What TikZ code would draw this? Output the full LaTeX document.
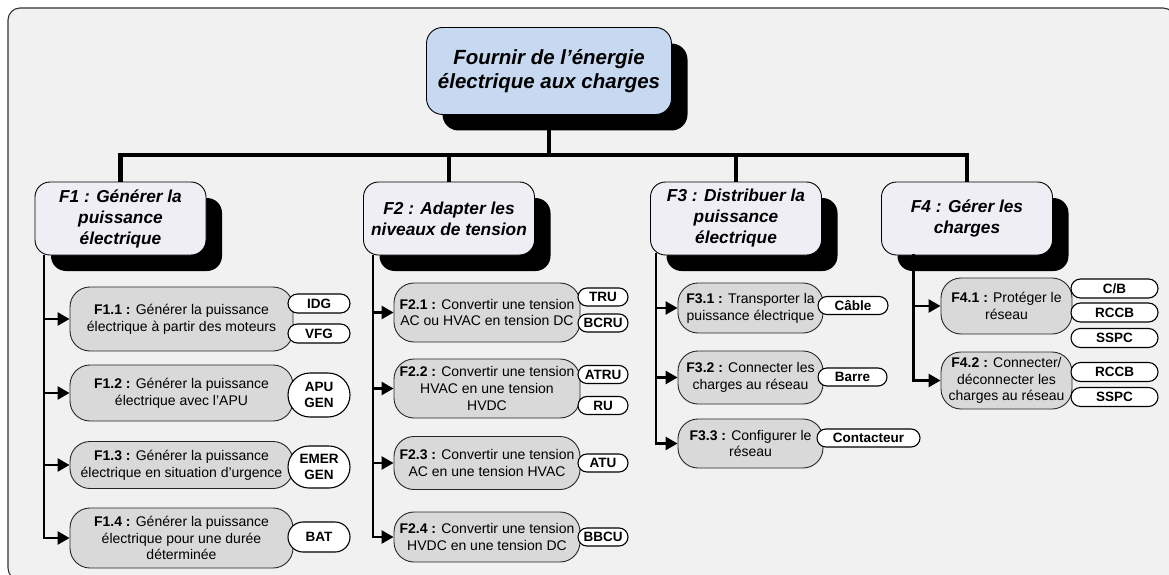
\documentclass[tikz,border=0pt]{standalone}
\usepackage{fontspec}
\setmainfont{Liberation Sans}
\usetikzlibrary{arrows.meta,shadows,shapes.misc}
\definecolor{framegray}{HTML}{F1F1F1}
\definecolor{topblue}{HTML}{C6D9F0}
\definecolor{lavender}{HTML}{F0EEF5}
\definecolor{subgray}{HTML}{D9D9D9}

\begin{document}
\begin{tikzpicture}[x=1pt,y=-1pt,
   shade/.style={drop shadow={shadow xshift=16pt,shadow yshift=-16pt,opacity=1,fill=black}},
   topbox/.style={shade,draw=black,line width=0.9pt,rounded corners=16pt,fill=topblue,align=center,
      inner sep=0pt,minimum width=245pt,minimum height=87pt,
      font=\fontsize{20.5}{24.6}\selectfont\bfseries\itshape},
   fbox/.style={shade,draw=black,line width=0.9pt,rounded corners=15pt,fill=lavender,align=center,
      inner sep=0pt,minimum width=171pt,minimum height=73pt,
      font=\fontsize{17.3}{21}\selectfont\bfseries\itshape},
   sbox/.style={draw=black!85,line width=0.9pt,rounded corners=20pt,fill=subgray,align=center,
      inner sep=0pt,font=\fontsize{14}{16.8}\selectfont},
   pill/.style={rounded rectangle,draw=black,line width=1.1pt,fill=white,align=center,
      inner sep=0pt,minimum height=18pt,font=\fontsize{13.5}{16.7}\selectfont\bfseries},
   tree/.style={line width=4.5pt},
   trunk/.style={line width=2.6pt,-{Triangle[length=12pt,width=13pt]}}
]
   \useasboundingbox (0,0) rectangle (1169,575);
   \filldraw[fill=framegray,draw=black!80,line width=1.1pt,rounded corners=12pt] (8,8) rectangle (1175,580);

   % main function
   \node[topbox] (top) at (549,71) {Fournir de l’énergie\\électrique aux charges};

   % first level
   \node[fbox] (f1) at (120.5,218.5) {F1 : Générer la\\puissance\\électrique};
   \node[fbox] (f2) at (449,218.5) {F2 : Adapter les\\niveaux de tension};
   \node[fbox] (f3) at (736,218.5) {F3 : Distribuer la\\puissance\\électrique};
   \node[fbox] (f4) at (967,218.5) {F4 : Gérer les\\charges};

   \coordinate (bar) at (549,155);
   \draw[tree] (top.south) -- (top.south |- bar);
   \draw[tree] (f1.north) -- (f1.north |- bar) -- (f4.north |- bar) -- (f4.north);
   \draw[tree] (f2.north) -- (f2.north |- bar);
   \draw[tree] (f3.north) -- (f3.north |- bar);

   % F1
   \node[sbox,minimum width=223pt,minimum height=64pt] (f11) at (181.5,319) {\textbf{F1.1 :} Générer la puissance\\électrique à partir des moteurs};
   \node[sbox,minimum width=223pt,minimum height=56pt] (f12) at (181.5,393) {\textbf{F1.2 :} Générer la puissance\\électrique avec l'APU};
   \node[sbox,minimum width=223pt,minimum height=47pt] (f13) at (181.5,465) {\textbf{F1.3 :} Générer la puissance\\électrique en situation d’urgence};
   \node[sbox,minimum width=223pt,minimum height=60pt] (f14) at (181.5,538) {\textbf{F1.4 :} Générer la puissance\\électrique pour une durée\\déterminée};
   \node[pill,minimum width=62pt,minimum height=19pt] (idg) at (319,303.5) {IDG};
   \node[pill,minimum width=62pt,minimum height=19pt] (vfg) at (319,333.5) {VFG};
   \node[pill,minimum width=62pt,minimum height=44pt] (apu) at (319,395) {APU\\GEN};
   \node[pill,minimum width=62pt,minimum height=42pt] (emer) at (319,467) {EMER\\GEN};
   \node[pill,minimum width=62pt,minimum height=30pt] (bat) at (319,537) {BAT};

   % F2
   \node[sbox,minimum width=186pt,minimum height=59pt] (f21) at (487,312.5) {\textbf{F2.1 :} Convertir une tension\\AC ou HVAC en tension DC};
   \node[sbox,minimum width=186pt,minimum height=59pt] (f22) at (487,388.5) {\textbf{F2.2 :} Convertir une tension\\HVAC en une tension\\HVDC};
   \node[sbox,minimum width=186pt,minimum height=53pt] (f23) at (487,463) {\textbf{F2.3 :} Convertir une tension\\AC en une tension HVAC};
   \node[sbox,minimum width=186pt,minimum height=50pt] (f24) at (487,537) {\textbf{F2.4 :} Convertir une tension\\HVDC en une tension DC};
   \node[pill,minimum width=50pt] (tru) at (603,297) {TRU};
   \node[pill,minimum width=50pt] (bcru) at (603,323) {BCRU};
   \node[pill,minimum width=50pt] (atru) at (603,374.5) {ATRU};
   \node[pill,minimum width=50pt] (ru) at (603,405.5) {RU};
   \node[pill,minimum width=50pt] (atu) at (603,463) {ATU};
   \node[pill,minimum width=50pt] (bbcu) at (603,537) {BBCU};

   % F3
   \node[sbox,minimum width=145pt,minimum height=50pt] (f31) at (750.5,308) {\textbf{F3.1 :} Transporter la\\puissance électrique};
   \node[sbox,minimum width=145pt,minimum height=53pt] (f32) at (750.5,377.5) {\textbf{F3.2 :} Connecter les\\charges au réseau};
   \node[sbox,minimum width=145pt,minimum height=49pt] (f33) at (750.5,443.5) {\textbf{F3.3 :} Configurer le\\réseau};
   \node[pill,minimum width=70pt] (cable) at (853,305.5) {Câble};
   \node[pill,minimum width=69pt] (barre) at (852.5,377) {Barre};
   \node[pill,minimum width=103pt] (cont) at (868.5,438) {Contacteur};

   % F4
   \node[sbox,minimum width=131pt,minimum height=56pt] (f41) at (1006.5,306) {\textbf{F4.1 :} Protéger le\\réseau};
   \node[sbox,minimum width=131pt,minimum height=57pt] (f42) at (1006.5,380.5) {\textbf{F4.2 :} Connecter/\\déconnecter les\\charges au réseau};
   \node[pill,minimum width=87pt,minimum height=19pt] (cb) at (1114.5,288.5) {C/B};
   \node[pill,minimum width=87pt,minimum height=19pt] (rccba) at (1114.5,312.5) {RCCB};
   \node[pill,minimum width=87pt,minimum height=19pt] (sspca) at (1114.5,338) {SSPC};
   \node[pill,minimum width=87pt,minimum height=19pt] (rccbb) at (1114.5,372) {RCCB};
   \node[pill,minimum width=87pt,minimum height=19pt] (sspcb) at (1114.5,397) {SSPC};

   % trunks
   \coordinate (t1) at (44,255);
   \coordinate (t2) at (373,255);
   \coordinate (t3) at (656,253);
   \coordinate (t4) at (913.5,254);
   \foreach \s in {f11,f12,f13,f14} \draw[trunk] (t1) |- (\s.west);
   \foreach \s in {f21,f22,f23,f24} \draw[trunk] (t2) |- (\s.west);
   \foreach \s in {f31,f32,f33} \draw[trunk] (t3) |- (\s.west);
   \foreach \s in {f41,f42} \draw[trunk] (t4) |- (\s.west);
\end{tikzpicture}
\end{document}
